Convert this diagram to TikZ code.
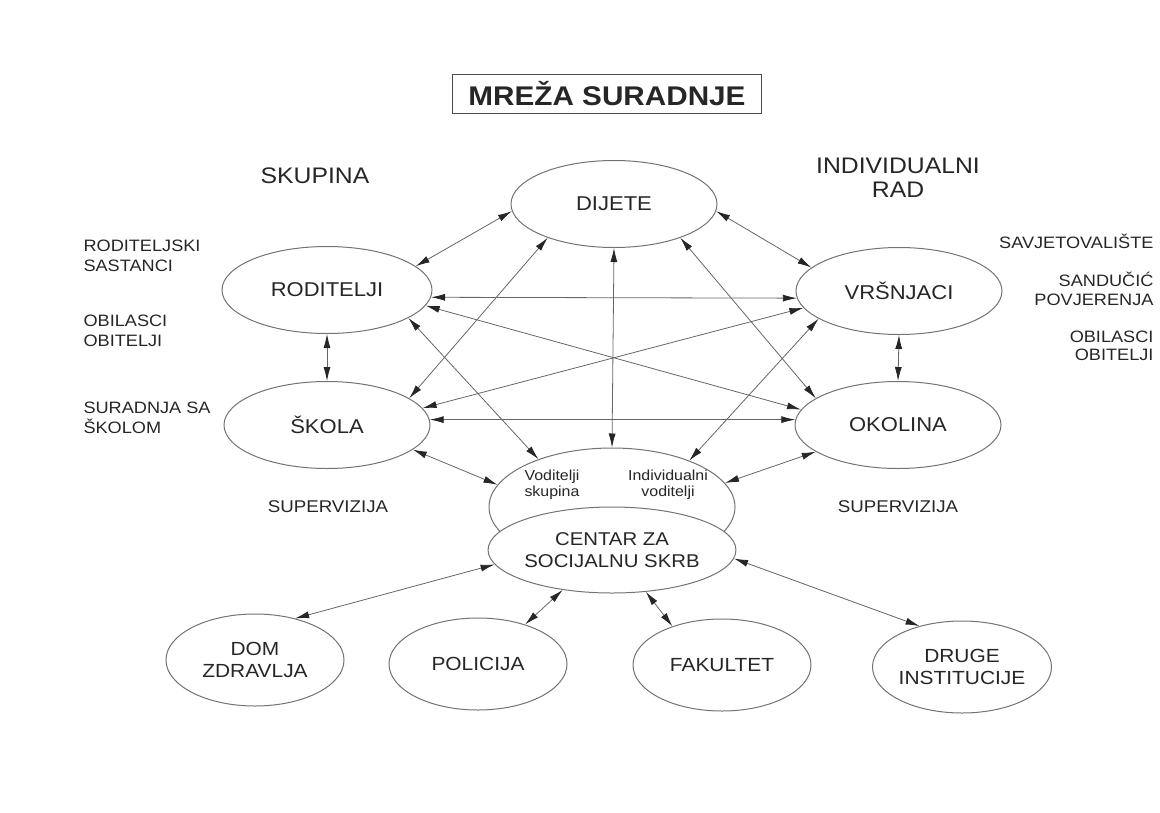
\documentclass[tikz,border=0pt]{standalone}
\usepackage{fontspec}
\setmainfont{Liberation Sans}[FakeStretch=1.1]
\usetikzlibrary{arrows.meta,shapes.geometric}

\begin{document}
\begin{tikzpicture}[x=1pt,y=-1pt,>={Latex[length=14pt,width=7pt,color=black!85]},
  every node/.style={text=black!85},
  oval/.style={ellipse,draw=black!55,line width=1pt,fill=white,inner sep=0pt,
    minimum width=206pt,minimum height=87pt,font=\fontsize{20}{24}\selectfont},
  lowoval/.style={oval,minimum width=178pt,minimum height=92pt,align=center,
    font=\fontsize{19}{22}\selectfont},
  note/.style={align=left,font=\fontsize{16.5}{19.5}\selectfont},
  rnote/.style={align=right,anchor=east,font=\fontsize{16.5}{18.5}\selectfont},
  head/.style={align=center,font=\fontsize{22.5}{24}\selectfont},
  small/.style={align=center,font=\fontsize{14.5}{16}\selectfont},
  link/.style={<->,draw=black!60,line width=0.8pt}]
  \useasboundingbox (0,0) rectangle (1160,812);

  \node[draw=black!70,line width=1.2pt,minimum width=309pt,minimum height=39pt,
    font=\fontsize{27}{30}\selectfont\bfseries] (title) at (607,94) {MREŽA SURADNJE};

  \node[head] (skup) at (315,176) {SKUPINA};
  \node[head] (indrad) at (898,178) {INDIVIDUALNI\\RAD};

  \node[oval] (dij) at (614,204) {DIJETE};
  \node[oval,minimum width=210pt] (rod) at (327,290) {RODITELJI};
  \node[oval] (vrs) at (899,291) {VRŠNJACI};
  \node[oval] (sko) at (327,425) {ŠKOLA};
  \node[oval] (oko) at (898,425) {OKOLINA};

  \node[oval,minimum width=246pt,minimum height=118pt] (vod) at (612,507) {};
  \node[oval,minimum width=202pt,minimum height=86pt,align=center,
    font=\fontsize{18.5}{22}\selectfont] (csr) at (612,550) {CENTAR ZA\\SOCIJALNU SKRB};
  \node[small] (vsk) at (552,485) {Voditelji\\skupina};
  \node[small] (ivo) at (668,485) {Individualni\\voditelji};

  \node[lowoval] (dom) at (255,660) {DOM\\ZDRAVLJA};
  \node[lowoval] (pol) at (478,664) {POLICIJA};
  \node[lowoval] (fak) at (722,665) {FAKULTET};
  \node[lowoval] (dru) at (962,667) {DRUGE\\INSTITUCIJE};

  \node[note,anchor=west] (rsas) at (80,256) {RODITELJSKI\\SASTANCI};
  \node[note,anchor=west] (lobi) at (80,331) {OBILASCI\\OBITELJI};
  \node[note,anchor=west] (sur) at (80,418) {SURADNJA SA\\ŠKOLOM};
  \node[note,font=\fontsize{17}{20}\selectfont] (lsup) at (328,507) {SUPERVIZIJA};
  \node[note,font=\fontsize{17}{20}\selectfont] (rsup) at (898,507) {SUPERVIZIJA};

  \node[rnote] (sav) at (1157,241) {SAVJETOVALIŠTE};
  \node[rnote] (san) at (1157,289) {SANDUČIĆ\\POVJERENJA};
  \node[rnote] (robi) at (1157,346) {OBILASCI\\OBITELJI};

  \draw[link] (rod.15) -- (dij.184);
  \draw[link] (dij.-4) -- (vrs.165);
  \draw[link] (dij.207) -- (sko.18);
  \draw[link] (dij.-27) -- (oko.162);
  \draw[link] (dij.south) -- (vod.north);
  \draw[link] (rod.-4) -- (vrs.184);
  \draw[link] (rod.south) -- (sko.north);
  \draw[link] (rod.-9) -- (oko.171);
  \draw[link] (rod.-19) -- (vod.147);
  \draw[link] (sko.10) -- (vrs.190);
  \draw[link] (sko.3) -- (oko.177);
  \draw[link] (sko.-16) -- (vod.169);
  \draw[link] (vrs.-161) -- (vod.31);
  \draw[link] (oko.-162) -- (vod.12);
  \draw[link] (vrs.south) -- (oko.north);
  \draw[link] (csr.187) -- (dom.46);
  \draw[link] (csr.219) -- (pol.40);
  \draw[link] (csr.-51) -- (fak.142);
  \draw[link] (csr.-4) -- (dru.136);
\end{tikzpicture}
\end{document}
